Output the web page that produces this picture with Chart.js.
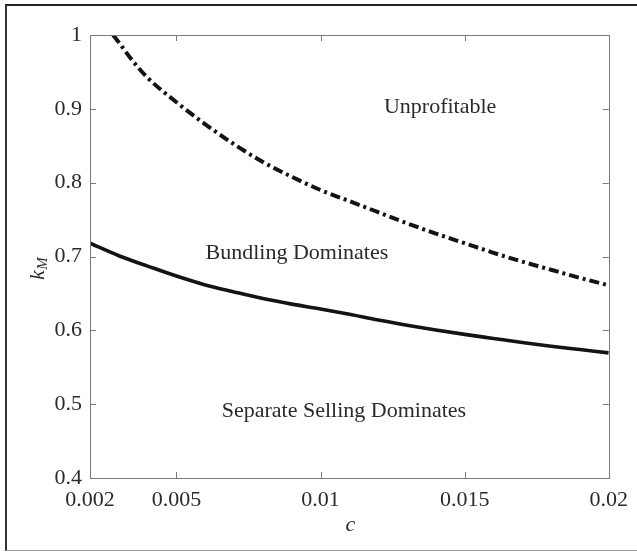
<!DOCTYPE html>
<html>
<head>
<meta charset="utf-8">
<script src="https://cdn.jsdelivr.net/npm/chart.js@4.4.1/dist/chart.umd.min.js"></script>
<style>
  html, body { margin: 0; padding: 0; background: #fff; }
  #wrap { position: relative; width: 637px; height: 553px; overflow: hidden; }
  #frame {
    position: absolute; left: 5px; top: 4px; width: 700px; height: 544px;
    border-top: 2px solid #222; border-left: 2px solid #333; border-bottom: 1px solid #999;
  }
  #chart { position: absolute; left: 0; top: 0; }
</style>
</head>
<body>
<div id="wrap">
  <div id="frame"></div>
  <canvas id="chart" width="637" height="553"></canvas>
</div>
<script>
// Boundary between separate selling and bundling (solid line)
const cSolid = [0.002, 0.003, 0.004, 0.005, 0.006, 0.007, 0.008, 0.009, 0.010, 0.011,
                0.012, 0.013, 0.014, 0.015, 0.016, 0.017, 0.018, 0.019, 0.020];
const kSolid = [0.718, 0.701, 0.687, 0.6735, 0.6615, 0.652, 0.643, 0.6355, 0.629, 0.6218,
                0.614, 0.607, 0.6005, 0.5945, 0.589, 0.5835, 0.5785, 0.574, 0.5695];

// Profitability threshold for bundling (dash-dot line)
const cDash = [0.0028, 0.003, 0.0035, 0.004, 0.005, 0.006, 0.007, 0.008, 0.009, 0.010,
               0.011, 0.012, 0.013, 0.014, 0.015, 0.016, 0.017, 0.018, 0.019, 0.020];
const kDash = [1.0, 0.990, 0.964, 0.942, 0.909, 0.879, 0.852, 0.828, 0.808, 0.790,
               0.775, 0.760, 0.745, 0.731, 0.718, 0.705, 0.693, 0.682, 0.671, 0.661];

// Axis ticks
const xTicks = [0.002, 0.005, 0.01, 0.015, 0.02];
const xTickLabels = ['0.002', '0.005', '0.01', '0.015', '0.02'];
const yTicks = [0.4, 0.5, 0.6, 0.7, 0.8, 0.9, 1];
const yTickLabels = ['0.4', '0.5', '0.6', '0.7', '0.8', '0.9', '1'];

// Region names, anchored in data units (c, k_M)
const regionNames = ['Unprofitable', 'Bundling Dominates', 'Separate Selling Dominates'];
const regionC = [0.01415, 0.00918, 0.01081];
const regionK = [0.9025, 0.7048, 0.4907];

const SERIF = '"Liberation Serif", "Times New Roman", serif';
const AXIS_GRAY = '#7a7a7a';
const TEXT = '#2a2a2a';

const toPoints = (xs, ys) => xs.map((x, i) => ({ x: x, y: ys[i] }));

// Box around the axes, inward ticks on all four sides, axis names and region names
const decorations = {
  id: 'decorations',
  afterDraw(chart) {
    const { ctx, chartArea: a, scales: { x, y } } = chart;
    const tl = 6;
    ctx.save();
    ctx.strokeStyle = AXIS_GRAY;
    ctx.lineWidth = 1;
    ctx.strokeRect(Math.round(a.left) + 0.5, Math.round(a.top) + 0.5,
                   Math.round(a.right - a.left), Math.round(a.bottom - a.top));
    ctx.beginPath();
    xTicks.forEach(v => {
      const px = Math.round(x.getPixelForValue(v)) + 0.5;
      ctx.moveTo(px, a.bottom); ctx.lineTo(px, a.bottom - tl);
      ctx.moveTo(px, a.top); ctx.lineTo(px, a.top + tl);
    });
    yTicks.forEach(v => {
      const py = Math.round(y.getPixelForValue(v)) + 0.5;
      ctx.moveTo(a.left, py); ctx.lineTo(a.left + tl, py);
      ctx.moveTo(a.right, py); ctx.lineTo(a.right - tl, py);
    });
    ctx.stroke();

    // region names
    ctx.fillStyle = TEXT;
    ctx.font = '22px ' + SERIF;
    ctx.textAlign = 'center';
    ctx.textBaseline = 'middle';
    regionNames.forEach((t, i) => {
      ctx.fillText(t, x.getPixelForValue(regionC[i]), y.getPixelForValue(regionK[i]));
    });

    // x axis name
    ctx.font = 'italic 22px ' + SERIF;
    ctx.textBaseline = 'alphabetic';
    ctx.fillText('c', (a.left + a.right) / 2 + 1, 531);

    // y axis name k_M, rotated
    ctx.save();
    ctx.translate(44, 280);
    ctx.rotate(-Math.PI / 2);
    ctx.textAlign = 'left';
    ctx.font = 'italic 22px ' + SERIF;
    ctx.fillText('k', 0, 0);
    const kw = ctx.measureText('k').width;
    ctx.font = 'italic 15px ' + SERIF;
    ctx.fillText('M', kw + 0.5, 3);
    ctx.restore();
    ctx.restore();
  }
};

new Chart(document.getElementById('chart'), {
  type: 'line',
  data: {
    datasets: [
      {
        label: 'Bundling vs. separate selling',
        data: toPoints(cSolid, kSolid),
        borderColor: '#141414',
        borderWidth: 3.6,
        pointRadius: 0,
        cubicInterpolationMode: 'monotone',
        fill: false
      },
      {
        label: 'Profitability threshold',
        data: toPoints(cDash, kDash),
        borderColor: '#141414',
        borderWidth: 4,
        borderDash: [10, 4, 3, 4],
        pointRadius: 0,
        cubicInterpolationMode: 'monotone',
        fill: false
      }
    ]
  },
  options: {
    responsive: false,
    animation: false,
    devicePixelRatio: 1,
    layout: { padding: { top: 35, right: 27, left: 0, bottom: 0 } },
    plugins: { legend: { display: false }, tooltip: { enabled: false } },
    scales: {
      x: {
        type: 'linear',
        min: 0.002,
        max: 0.02,
        afterBuildTicks: s => { s.ticks = xTicks.map(v => ({ value: v })); },
        afterFit: s => { s.height = 75; },
        grid: { display: false, drawTicks: false },
        border: { display: false },
        ticks: {
          autoSkip: false,
          maxRotation: 0,
          padding: 9,
          color: TEXT,
          font: { family: SERIF, size: 22 },
          callback: (v, i) => xTickLabels[i]
        }
      },
      y: {
        type: 'linear',
        min: 0.4,
        max: 1,
        afterBuildTicks: s => { s.ticks = yTicks.map(v => ({ value: v })); },
        afterFit: s => { s.width = 90; },
        grid: { display: false, drawTicks: false },
        border: { display: false },
        ticks: {
          autoSkip: false,
          padding: 8,
          color: TEXT,
          font: { family: SERIF, size: 22 },
          callback: (v, i) => yTickLabels[i]
        }
      }
    }
  },
  plugins: [decorations]
});
</script>
</body>
</html>
